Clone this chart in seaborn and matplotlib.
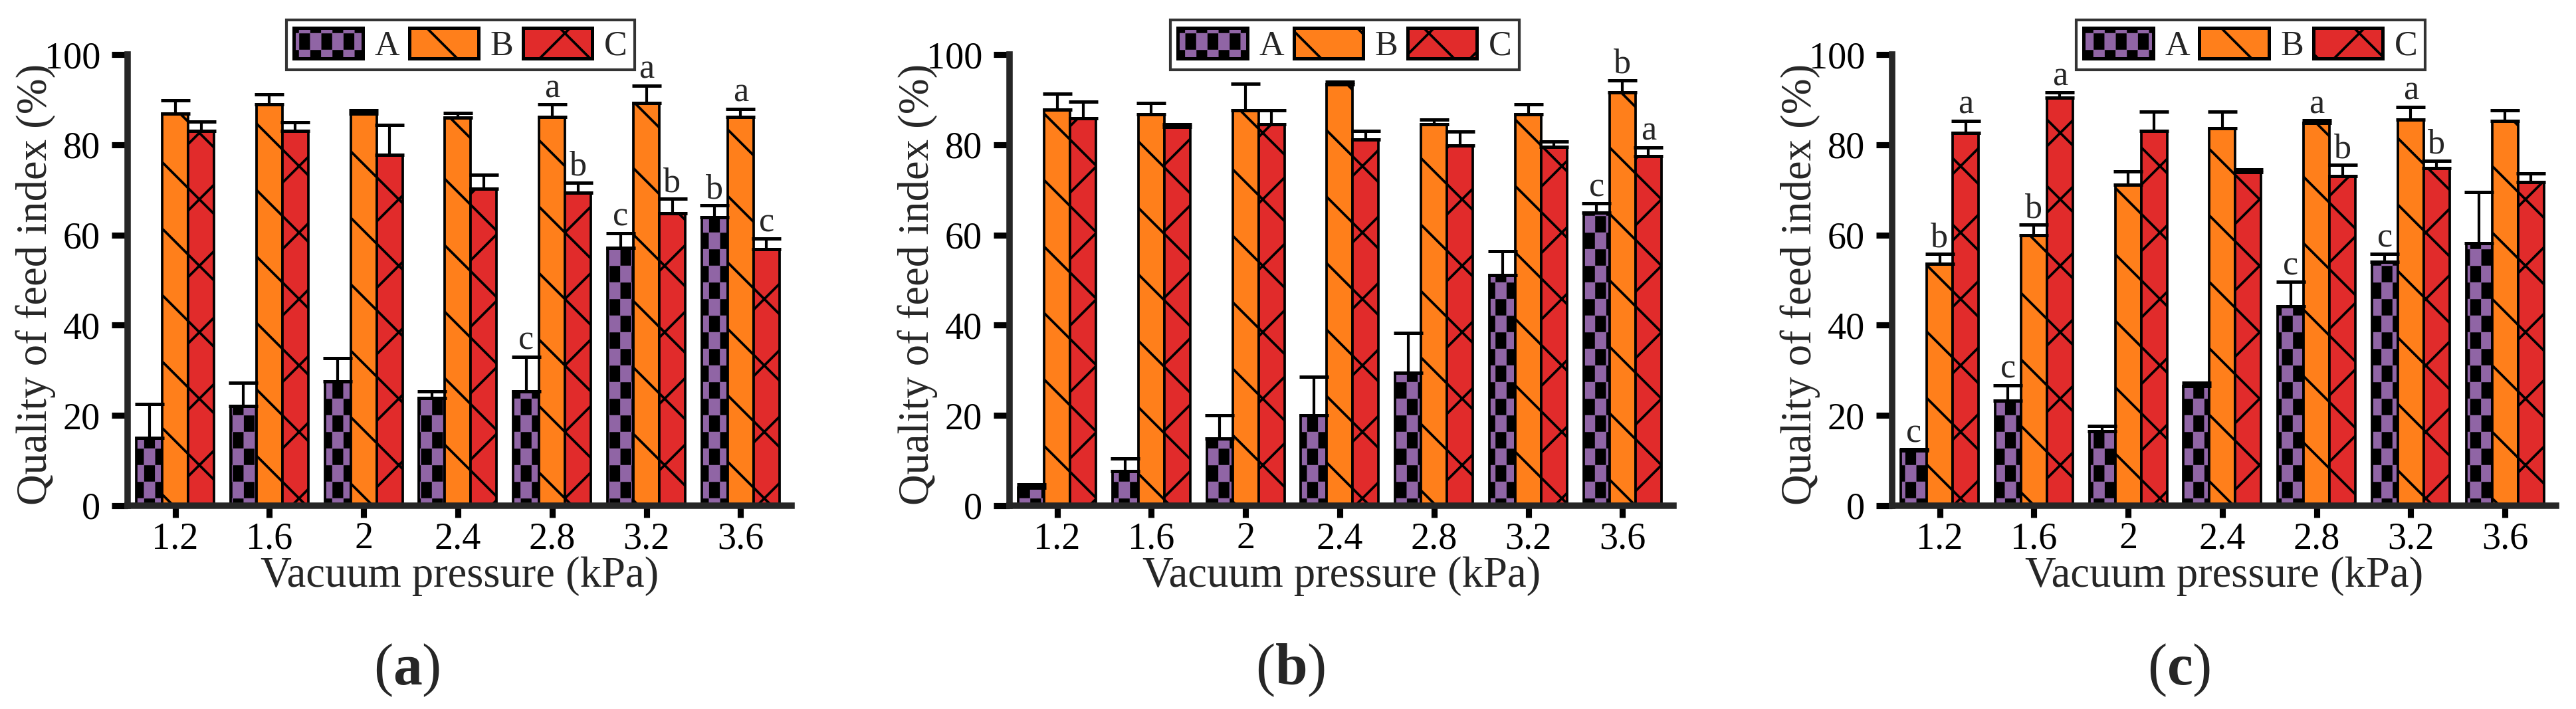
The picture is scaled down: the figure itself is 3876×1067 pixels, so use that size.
import numpy as np
import pandas as pd
import seaborn as sns
import matplotlib
matplotlib.use("Agg")
import matplotlib.pyplot as plt
import matplotlib.hatch as mhatch
from matplotlib.patches import Patch
from matplotlib.path import Path

# x categories and series
pressures = ["1.2", "1.6", "2", "2.4", "2.8", "3.2", "3.6"]
groups = ["A", "B", "C"]

# panel (a)
a_A = [15.0, 22.1, 27.6, 23.8, 25.4, 57.2, 63.9]
a_A_err = [7.5, 5.2, 5.1, 1.6, 7.6, 3.2, 2.6]
a_B = [86.9, 89.0, 86.9, 86.0, 86.2, 89.3, 86.2]
a_B_err = [3.0, 2.1, 0.8, 1.1, 2.7, 3.8, 1.8]
a_C = [83.0, 83.0, 77.7, 70.2, 69.3, 64.8, 56.8]
a_C_err = [2.2, 2.0, 6.7, 3.2, 2.3, 3.2, 2.4]
a_A_let = ["", "", "", "", "c", "c", "b"]
a_B_let = ["", "", "", "", "a", "a", "a"]
a_C_let = ["", "", "", "", "b", "b", "c"]

# panel (b)
b_A = [4.0, 7.7, 14.9, 20.1, 29.5, 51.1, 65.0]
b_A_err = [0.7, 2.7, 5.1, 8.4, 8.8, 5.3, 2.0]
b_B = [87.8, 86.8, 87.6, 93.4, 84.6, 86.8, 91.6]
b_B_err = [3.5, 2.5, 5.9, 0.6, 0.9, 2.2, 2.7]
b_C = [85.9, 84.0, 84.6, 81.2, 79.9, 79.6, 77.4]
b_C_err = [3.7, 0.6, 3.0, 1.8, 3.0, 1.1, 2.0]
b_A_let = ["", "", "", "", "", "", "c"]
b_B_let = ["", "", "", "", "", "", "b"]
b_C_let = ["", "", "", "", "", "", "a"]

# panel (c)
c_A = [12.2, 23.3, 16.5, 26.5, 44.2, 54.0, 58.2]
c_A_err = [0.3, 3.4, 1.1, 0.8, 5.4, 1.8, 11.3]
c_B = [53.6, 60.0, 71.2, 83.6, 84.9, 85.5, 85.3]
c_B_err = [2.2, 2.3, 2.9, 3.8, 0.5, 2.9, 2.4]
c_C = [82.7, 90.4, 83.0, 73.9, 73.0, 74.8, 71.7]
c_C_err = [2.6, 1.2, 4.4, 0.7, 2.5, 1.7, 2.0]
c_A_let = ["c", "c", "", "", "c", "c", ""]
c_B_let = ["b", "b", "", "", "a", "a", ""]
c_C_let = ["a", "a", "", "", "b", "b", ""]

colors = {"A": "#9065A5", "B": "#FF7F1B", "C": "#E12B2B"}
hatches = {"A": "o", "B": "\\", "C": "x"}


class CheckerHatch(mhatch.HatchPatternBase):
    """'o' in a hatch string gives a filled checkerboard instead of circles."""
    nx, ny = 18, 12

    def __init__(self, hatch, density):
        self.num_vertices = 5 * (self.nx * self.ny // 2) if hatch.count("o") else 0

    def set_vertices_and_codes(self, vertices, codes):
        w, h = 1.0 / self.nx, 1.0 / self.ny
        s = 0.007  # leave room for the stroke drawn round each square
        pts = []
        for i in range(self.nx):
            for j in range(self.ny):
                if (i + j) % 2 == 0:
                    x0, y0 = i * w + s, j * h + s
                    x1, y1 = (i + 1) * w - s, (j + 1) * h - s
                    pts += [(x0, y0), (x1, y0), (x1, y1), (x0, y1), (x0, y0)]
        vertices[:] = pts
        codes[:] = [Path.MOVETO, Path.LINETO, Path.LINETO, Path.LINETO,
                    Path.CLOSEPOLY] * (len(pts) // 5)


mhatch._hatch_types[mhatch._hatch_types.index(mhatch.SmallCircles)] = CheckerHatch

sns.set_style("ticks")
plt.rcParams["font.family"] = ["Liberation Serif", "DejaVu Serif"]
plt.rcParams["mathtext.fontset"] = "custom"
plt.rcParams["mathtext.rm"] = "Liberation Serif"
plt.rcParams["mathtext.bf"] = "Liberation Serif:bold"
plt.rcParams["hatch.color"] = "black"
plt.rcParams["hatch.linewidth"] = 0.9


def draw_panel(ax, means, errs, letters, legend_x):
    df = pd.DataFrame({
        "pressure": pressures * 3,
        "group": [g for g in groups for _ in pressures],
        "value": means["A"] + means["B"] + means["C"],
    })
    sns.barplot(data=df, x="pressure", y="value", hue="group", order=pressures,
                hue_order=groups, palette=colors, saturation=1, errorbar=None,
                width=0.825, edgecolor="black", linewidth=0.9, legend=False, ax=ax)

    for cont, g in zip(ax.containers, groups):
        xs = [b.get_x() + b.get_width() / 2 for b in cont]
        ys = [b.get_height() for b in cont]
        for b in cont:
            b.set_hatch(hatches[g])
        ax.errorbar(xs, ys, yerr=[np.zeros(len(ys)), errs[g]], fmt="none",
                    ecolor="black", elinewidth=1.0, capsize=5.2, capthick=1.2, zorder=3)
        for x, y, e, t in zip(xs, ys, errs[g], letters[g]):
            if t:
                ax.annotate(t, (x, y + e), xytext=(0, 0), textcoords="offset points",
                            ha="center", va="bottom", fontsize=12.5)

    ax.set_xlim(-0.505, 6.54)
    ax.set_ylim(0, 100)
    ax.set_yticks(range(0, 101, 20))
    sns.despine(ax=ax)
    for sp in ["left", "bottom"]:
        ax.spines[sp].set_linewidth(2.3)
    ax.tick_params(axis="x", width=2.2, length=4.3, labelsize=13.5, pad=1.5, colors="black")
    ax.tick_params(axis="y", width=2.2, length=5.8, labelsize=13.5, pad=4, colors="black")
    ax.set_xlabel("Vacuum pressure (kPa)", fontsize=15.5, labelpad=0)
    ax.set_ylabel("Quality of feed index (%)", fontsize=15.5)
    ax.yaxis.set_label_coords(-0.108, 0.49)

    handles = [Patch(facecolor=colors[g], edgecolor="black", hatch=hatches[g],
                     linewidth=1.2, label=g) for g in groups]
    leg = ax.legend(handles=handles, loc="center", bbox_to_anchor=(legend_x, 1.021),
                    ncol=3, fontsize=12.5, frameon=True, fancybox=False,
                    handlelength=2.0, handleheight=1.0, handletextpad=0.34,
                    columnspacing=0.28, borderpad=0.22, borderaxespad=0)
    leg.get_frame().set_edgecolor("black")
    leg.get_frame().set_linewidth(1.0)


fig = plt.figure(figsize=(3876 / 300, 1067 / 300), dpi=300)

panels = [
    ({"A": a_A, "B": a_B, "C": a_C}, {"A": a_A_err, "B": a_B_err, "C": a_C_err},
     {"A": a_A_let, "B": a_B_let, "C": a_C_let}, 0.04954, 0.5015, 0.158, "a"),
    ({"A": b_A, "B": b_B, "C": b_C}, {"A": b_A_err, "B": b_B_err, "C": b_C_err},
     {"A": b_A_let, "B": b_B_let, "C": b_C_let}, 0.3919, 0.505, 0.501, "b"),
    ({"A": c_A, "B": c_B, "C": c_C}, {"A": c_A_err, "B": c_B_err, "C": c_C_err},
     {"A": c_A_let, "B": c_B_let, "C": c_C_let}, 0.7345, 0.54, 0.846, "c"),
]

for means, errs, letters, left, leg_x, tag_x, tag in panels:
    ax = fig.add_axes([left, 0.2868, 0.2577, 0.6363])
    draw_panel(ax, means, errs, letters, leg_x)
    fig.text(tag_x, 0.055, r"($\mathbf{" + tag + r"}$)", ha="center", va="center",
             fontsize=21)

fig.savefig("out.png", dpi=300, facecolor="white")
